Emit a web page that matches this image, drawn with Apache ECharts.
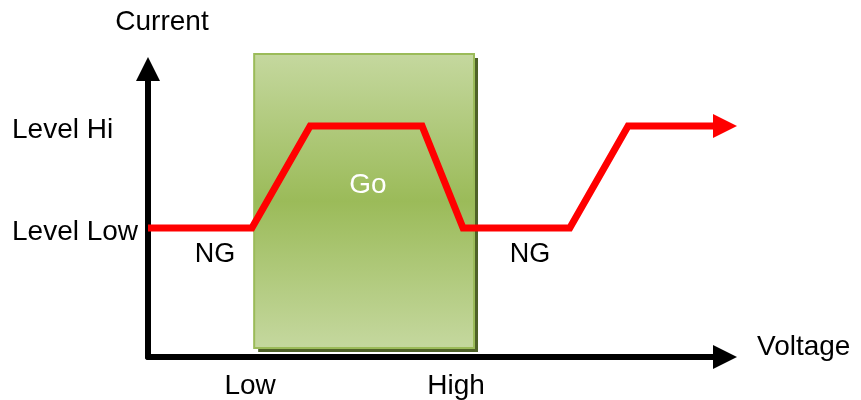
<!DOCTYPE html>
<html>
<head>
<meta charset="utf-8">
<title>Current vs Voltage</title>
<script src="https://cdn.jsdelivr.net/npm/echarts@6/dist/echarts.min.js"></script>
<style>
	html, body { margin: 0; padding: 0; background: #fff; }
	#main { width: 861px; height: 400px; }
</style>
</head>
<body>
<div id="main"></div>
<script>
// curve points (voltage, current)
var curveX = [0, 18.0, 28.1, 47.5, 54.6, 73.1, 83.2, 98];
var curveY = [43, 43, 77, 77, 43, 43, 77, 77];
var arrowHead = [100, 77];

// green "Go" window: [x0, x1, y0, y1]
var goZone = [18.4, 56.5, 3, 101];

// axis tick labels
var xTickValues = [17.7, 53.4];
var xTickNames = ["Low", "High"];
var yTickValues = [43, 77];
var yTickNames = ["Level Low", "Level Hi"];

// zone notes
var noteNames = ["NG", "Go", "NG"];
var noteX = [11.6, 38.1, 66.2];
var noteY = [34, 57.3, 34];
var noteColors = ["#000", "#fff", "#000"];
var noteSizes = [27, 28, 27];

var font = "Liberation Sans, Arial, sans-serif";
var fs = 28;

function zip(a, b) {
	var out = [];
	for(var i = 0; i < a.length; i++) {
		out.push([a[i], b[i]]);
	}
	return out;
}

var notes = [];
for(var i = 0; i < noteNames.length; i++) {
	notes.push({
		value: [noteX[i], noteY[i]],
		name: noteNames[i],
		label: { color: noteColors[i], fontSize: noteSizes[i] }
	});
}

// draws the green box with its dark drop shadow
function renderZone(params, api) {
	var p0 = api.coord([api.value(0), api.value(3)]);
	var p1 = api.coord([api.value(1), api.value(2)]);
	var w = p1[0] - p0[0];
	var h = p1[1] - p0[1];
	return {
		type: "group",
		children: [
			{
				type: "rect",
				shape: { x: p0[0] + 4, y: p0[1] + 4, width: w, height: h },
				style: { fill: "#4f6228" }
			},
			{
				type: "rect",
				shape: { x: p0[0], y: p0[1], width: w, height: h },
				style: {
					fill: new echarts.graphic.LinearGradient(0, 0, 0, 1, [
						{ offset: 0, color: "#c5d89f" },
						{ offset: 0.5, color: "#9bbb59" },
						{ offset: 1, color: "#c5d89f" }
					]),
					stroke: "#9bbb59",
					lineWidth: 2
				}
			}
		]
	};
}

var chart = echarts.init(document.getElementById("main"), null, { renderer: "canvas" });

chart.setOption({
	animation: false,
	textStyle: { fontFamily: font },
	grid: { left: 148, right: 136, top: 69, bottom: 43, containLabel: false },
	xAxis: {
		type: "value",
		min: 0,
		max: 100,
		name: "Voltage",
		nameLocation: "end",
		nameGap: 32,
		nameTextStyle: { fontSize: fs, color: "#000", fontFamily: font, verticalAlign: "bottom", lineHeight: 20 },
		axisLine: { show: true, symbol: ["none", "triangle"], symbolSize: [24, 24], lineStyle: { color: "#000", width: 6 } },
		axisTick: { show: false },
		splitLine: { show: false },
		axisLabel: {
			customValues: xTickValues,
			margin: 15,
			fontSize: fs,
			color: "#000",
			fontFamily: font,
			formatter: function(v) {
				var k = xTickValues.indexOf(v);
				return k >= 0 ? xTickNames[k] : "";
			}
		}
	},
	yAxis: {
		type: "value",
		min: 0,
		max: 96,
		name: "Current",
		nameLocation: "end",
		nameGap: 33,
		nameTextStyle: { fontSize: fs, color: "#000", fontFamily: font, padding: [0, 0, 0, 28] },
		axisLine: { show: true, symbol: ["none", "triangle"], symbolSize: [24, 24], lineStyle: { color: "#000", width: 6 } },
		axisTick: { show: false },
		splitLine: { show: false },
		axisLabel: {
			customValues: yTickValues,
			margin: 136,
			align: "left",
			color: "#000",
			fontFamily: font,
			rich: {
				lv: { fontSize: fs, color: "#000", fontFamily: font, padding: [9, 0, 0, 0] }
			},
			formatter: function(v) {
				var k = yTickValues.indexOf(v);
				return k >= 0 ? "{lv|" + yTickNames[k] + "}" : "";
			}
		}
	},
	series: [
		{
			type: "custom",
			data: [goZone],
			renderItem: renderZone,
			clip: false,
			silent: true,
			z: 1
		},
		{
			type: "line",
			data: zip(curveX, curveY),
			clip: false,
			showSymbol: false,
			symbol: "none",
			lineStyle: { color: "#ff0000", width: 7, cap: "butt", join: "miter" },
			z: 3
		},
		{
			// arrow head at the end of the curve
			type: "scatter",
			data: [arrowHead],
			symbol: "triangle",
			symbolSize: 24,
			symbolRotate: -90,
			itemStyle: { color: "#ff0000", opacity: 1 },
			clip: false,
			silent: true,
			z: 4
		},
		{
			type: "scatter",
			data: notes,
			symbolSize: 0,
			silent: true,
			z: 5,
			itemStyle: { opacity: 1 },
			label: {
				show: true,
				position: "inside",
				fontFamily: font,
				textBorderWidth: 0,
				formatter: function(p) { return p.name; }
			}
		}
	]
});
</script>
</body>
</html>
